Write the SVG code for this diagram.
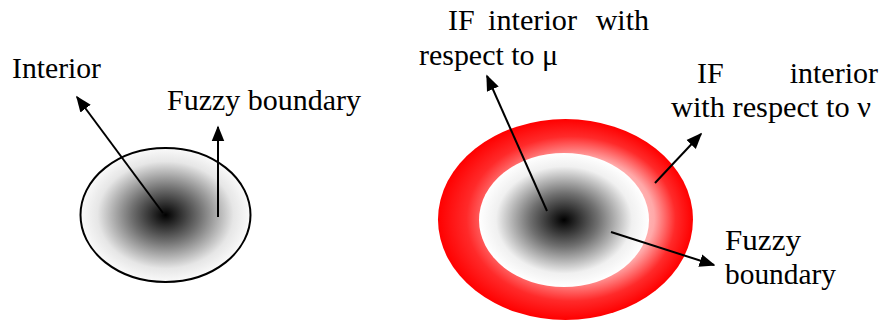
<svg xmlns="http://www.w3.org/2000/svg" width="880" height="322" viewBox="0 0 880 322">
<style>
text{font-family:"Liberation Serif","Times New Roman",serif;font-size:30px;fill:#000}
.ln{stroke:#000;stroke-width:2;fill:none}
</style>
<defs>
<radialGradient id="gray" cx="0.5" cy="0.5" r="0.5">
<stop offset="0" stop-color="#000"/>
<stop offset="0.4" stop-color="#707070"/>
<stop offset="0.8" stop-color="#e6e6e6"/>
<stop offset="1" stop-color="#fafafa"/>
</radialGradient>
<radialGradient id="gray2" cx="0.5" cy="0.5" r="0.5">
<stop offset="0" stop-color="#000"/>
<stop offset="0.4" stop-color="#707070"/>
<stop offset="0.8" stop-color="#f0f0f0"/>
<stop offset="1" stop-color="#fff"/>
</radialGradient>
<radialGradient id="red" cx="0.5" cy="0.5" r="0.5" fx="0.62" fy="0.48">
<stop offset="0" stop-color="#fff"/>
<stop offset="0.6" stop-color="#ffa8a8"/>
<stop offset="0.82" stop-color="#ff2a2a"/>
<stop offset="1" stop-color="#ff0000"/>
</radialGradient>
<marker id="ah" viewBox="0 0 10 10" refX="9" refY="5" markerWidth="8" markerHeight="8" markerUnits="strokeWidth" orient="auto">
<path d="M0,1 L10,5 L0,9 z" fill="#000"/>
</marker>
</defs>
<g id="fuzzy-set">
<ellipse cx="165.5" cy="215" rx="85" ry="67" fill="url(#gray)" stroke="#000" stroke-width="2"/>
</g>
<g id="if-set">
<ellipse cx="565.5" cy="219.5" rx="127.5" ry="100.5" fill="url(#red)"/>
<ellipse cx="564" cy="220" rx="85" ry="67" fill="url(#gray2)"/>
</g>
<g id="labels">
<text x="12" y="78" textLength="89" lengthAdjust="spacingAndGlyphs">Interior</text>
<text x="167" y="110" textLength="194" lengthAdjust="spacingAndGlyphs">Fuzzy boundary</text>
<text x="448" y="30">IF</text>
<text x="488" y="30" textLength="89" lengthAdjust="spacingAndGlyphs">interior</text>
<text x="649" y="30" text-anchor="end">with</text>
<text x="419" y="65" textLength="139" lengthAdjust="spacingAndGlyphs">respect to μ</text>
<text x="697" y="83">IF</text>
<text x="878" y="83" text-anchor="end">interior</text>
<text x="671" y="117" textLength="200" lengthAdjust="spacingAndGlyphs">with respect to ν</text>
<text x="725" y="250" textLength="76" lengthAdjust="spacingAndGlyphs">Fuzzy</text>
<text x="725" y="284" textLength="111" lengthAdjust="spacingAndGlyphs">boundary</text>
</g>
<g id="connectors">
<line class="ln" x1="163" y1="213" x2="77" y2="97" marker-end="url(#ah)"/>
<line class="ln" x1="218" y1="217" x2="218" y2="127" marker-end="url(#ah)"/>
<line class="ln" x1="547" y1="211" x2="487" y2="76" marker-end="url(#ah)"/>
<line class="ln" x1="655" y1="183" x2="701" y2="134" marker-end="url(#ah)"/>
<line class="ln" x1="611" y1="232" x2="714" y2="265" marker-end="url(#ah)"/>
</g>
</svg>
